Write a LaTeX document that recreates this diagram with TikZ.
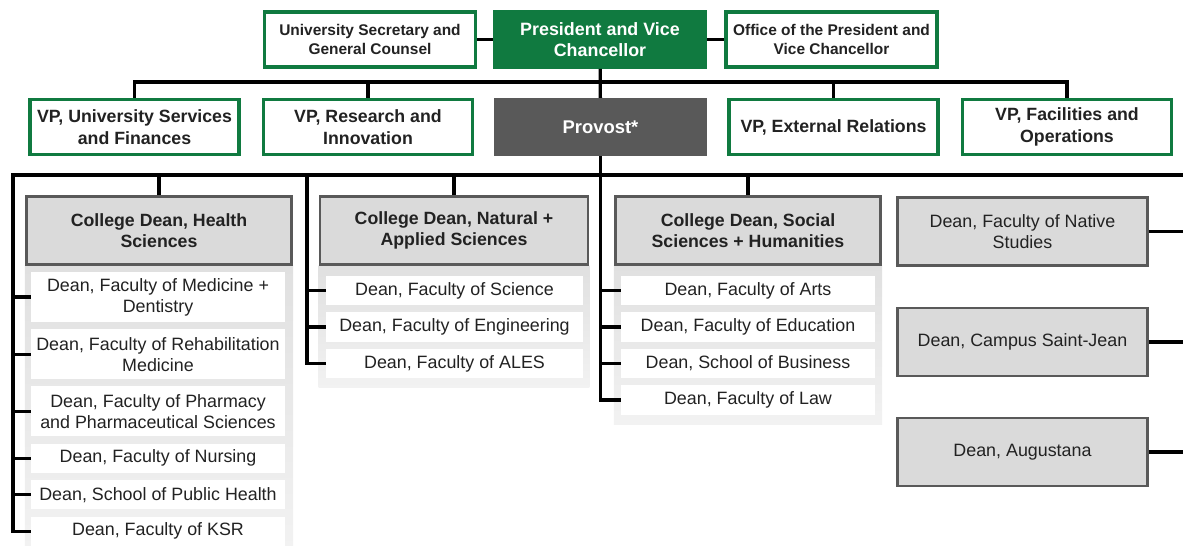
\documentclass[tikz,border=0pt]{standalone}
\usepackage{fontspec}
\setmainfont{Liberation Sans}
\usepackage{tikz}
\usepackage{xcolor}
\usetikzlibrary{backgrounds,calc,positioning}
\definecolor{ualgreen}{RGB}{16,122,64}
\definecolor{darkbox}{RGB}{89,89,89}
\definecolor{deanfill}{RGB}{218,218,218}
\definecolor{paneltop}{RGB}{224,224,224}
\definecolor{panelbot}{RGB}{242,242,242}
\definecolor{inktext}{RGB}{34,34,34}
\newcommand{\topfont}{\fontsize{11.6pt}{14.25pt}\selectfont\bfseries}
\newcommand{\presfont}{\fontsize{13.4pt}{15.75pt}\selectfont\bfseries}
\newcommand{\vpfont}{\fontsize{13.3pt}{16.5pt}\selectfont\bfseries}
\newcommand{\provfont}{\fontsize{13.8pt}{16.5pt}\selectfont\bfseries}
\newcommand{\deanfont}{\fontsize{13.3pt}{15.75pt}\selectfont\bfseries}
\newcommand{\unitfont}{\fontsize{13.4pt}{15.75pt}\selectfont}
\tikzset{%
  link/.style={line width=2.5pt},
  officebox/.style={draw=ualgreen,line width=2.6pt,fill=white,text=inktext,minimum width=158pt,minimum height=41.5pt,align=center,inner sep=1pt,font=\topfont},
  presbox/.style={officebox,fill=ualgreen,text=white,font=\presfont},
  vpbox/.style={officebox,minimum width=157pt,minimum height=41pt,font=\vpfont},
  provbox/.style={vpbox,draw=darkbox,fill=darkbox,text=white,font=\provfont},
  deanbox/.style={draw=darkbox,line width=2.2pt,fill=deanfill,text=inktext,minimum height=51pt,align=center,inner sep=1pt,font=\deanfont},
  unitbox/.style={fill=white,text=inktext,minimum height=22pt,align=center,inner sep=1pt,font=\unitfont},
  twoline/.style={minimum height=37.5pt},
  panel/.style={top color=paneltop,bottom color=panelbot},
}

\begin{document}
\begin{tikzpicture}[x=0.75pt,y=-0.75pt,node distance=5pt]
  \useasboundingbox (0,0) rectangle (1183,546);

  % president's office
  \node[officebox] (sec) at (370,39.5) {University Secretary and\\General Counsel};
  \node[presbox] (pres) at (600,39.5) {President and Vice\\Chancellor};
  \node[officebox] (office) at (831.5,39.5) {Office of the President and\\Vice Chancellor};

  % vice presidents
  \node[vpbox] (vps) at (134.5,127) {VP, University Services\\and Finances};
  \node[vpbox] (vpr) at (368,127) {VP, Research and\\Innovation};
  \node[provbox] (prov) at (600.5,127) {Provost*};
  \node[vpbox] (vpe) at (833.5,127) {VP, External Relations};
  \node[vpbox] (vpf) at (1067,127) {VP, Facilities and\\Operations};

  % college deans
  \node[deanbox,minimum width=199pt] (health) at (159,230.5) {College Dean, Health\\Sciences};
  \node[deanbox,minimum width=201pt] (natural) at (454,230.5) {College Dean, Natural +\\Applied Sciences};
  \node[deanbox,minimum width=199pt] (social) at (748,230.5) {College Dean, Social\\Sciences + Humanities};

  \node[deanbox,minimum width=187.5pt,font=\unitfont] (native) at (1022.5,231.5) {Dean, Faculty of Native\\Studies};
  \node[deanbox,minimum width=187.5pt,font=\unitfont] (stjean) at (1022.5,342) {Dean, Campus Saint-Jean};
  \node[deanbox,minimum width=187.5pt,font=\unitfont] (augustana) at (1022.5,452) {Dean, Augustana};

  % faculties
  \begin{scope}[every node/.append style={minimum width=190.5pt}]
    \node[unitbox,twoline] (med) at (158,297) {Dean, Faculty of Medicine +\\Dentistry};
    \node[unitbox,twoline,below=of med] (rehab) {Dean, Faculty of Rehabilitation\\Medicine};
    \node[unitbox,twoline,below=of rehab] (pharm) {Dean, Faculty of Pharmacy\\and Pharmaceutical Sciences};
    \node[unitbox,below=of pharm] (nursing) {Dean, Faculty of Nursing};
    \node[unitbox,below=of nursing] (public) {Dean, School of Public Health};
    \node[unitbox,below=of public] (ksr) {Dean, Faculty of KSR};
  \end{scope}
  \begin{scope}[every node/.append style={minimum width=193pt}]
    \node[unitbox] (science) at (454.5,290.5) {Dean, Faculty of Science};
    \node[unitbox,below=of science] (eng) {Dean, Faculty of Engineering};
    \node[unitbox,below=of eng] (ales) {Dean, Faculty of ALES};
  \end{scope}
  \begin{scope}[every node/.append style={minimum width=190.5pt}]
    \node[unitbox] (arts) at (748,290.5) {Dean, Faculty of Arts};
    \node[unitbox,below=of arts] (edu) {Dean, Faculty of Education};
    \node[unitbox,below=of edu] (business) {Dean, School of Business};
    \node[unitbox,below=of business] (law) {Dean, Faculty of Law};
  \end{scope}

  \begin{scope}[on background layer]
    \coordinate (pageB) at (0,548);
    \shade[panel] (health.south west) rectangle (health.east |- pageB);
    \shade[panel] (natural.south west) rectangle ($(natural.east |- ales.south)+(0,9)$);
    \shade[panel] (social.south west) rectangle ($(social.east |- law.south)+(0,9)$);
  \end{scope}

  \coordinate (bus2) at (600,82);
  \coordinate (busL) at (13,175);
  \coordinate (busR) at (1183,175);
  \coordinate (natT) at (307,175);

  \draw[link] (sec) -- (pres);
  \draw[link] (pres) -- (office);
  \draw[link] (pres) -- (prov);
  \draw[link] (vps.north) |- (bus2) -| (vpf.north);
  \draw[link] (vpr.north) -- (vpr.north |- bus2);
  \draw[link] (vpe.north) -- (vpe.north |- bus2);

  \draw[link] (busR) -- (busL) |- (ksr.west);
  \draw[link] (natT) |- (ales.west);
  \draw[link] (prov.south) |- (law.west);
  \foreach \d in {health,natural,social}
    \draw[link] (\d.north) -- (\d.north |- busL);
  \foreach \u in {med,rehab,pharm,nursing,public}
    \draw[link] (\u.west) -- (\u.west -| busL);
  \foreach \u in {science,eng}
    \draw[link] (\u.west) -- (\u.west -| natT);
  \foreach \u in {arts,edu,business}
    \draw[link] (\u.west) -- (\u.west -| prov.south);
  \foreach \d in {native,stjean,augustana}
    \draw[link] (\d.east) -- (\d.east -| busR);
\end{tikzpicture}
\end{document}
